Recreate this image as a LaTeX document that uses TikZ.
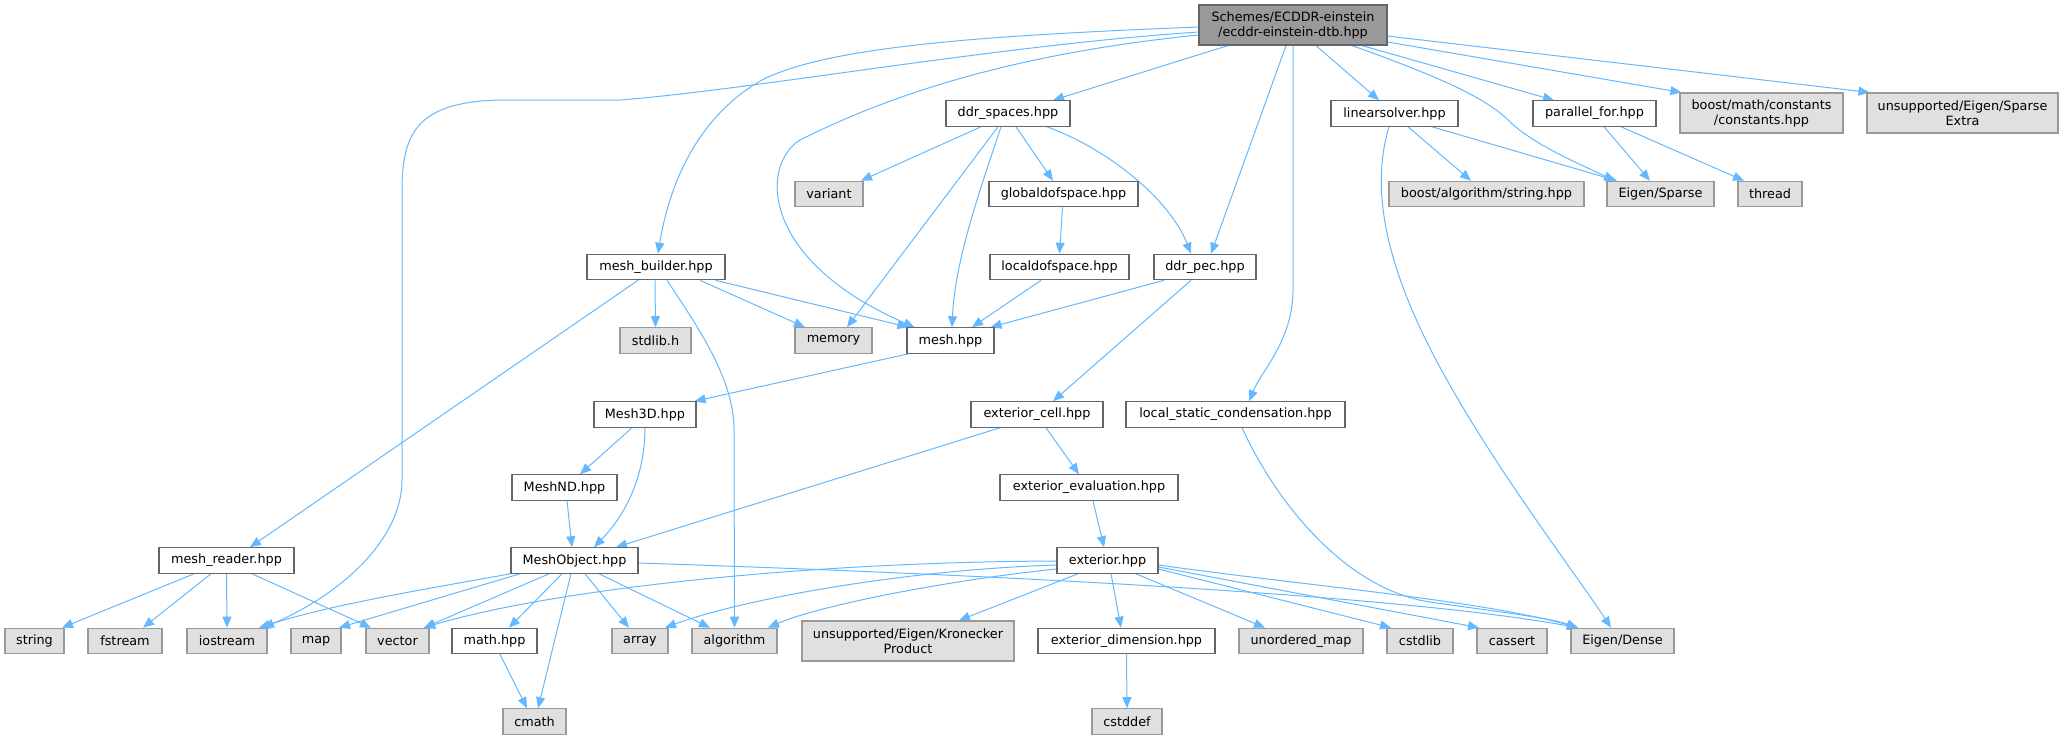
\documentclass[tikz,border=0pt]{standalone}
\usepackage{fontspec}
\setmainfont{DejaVu Sans}
\usetikzlibrary{arrows.meta,backgrounds}
\definecolor{cdark}{HTML}{666666}
\definecolor{cmid}{HTML}{999999}
\definecolor{clight}{HTML}{E0E0E0}
\definecolor{edgec}{HTML}{63B8FF}
\tikzset{
  base/.style={rectangle, inner sep=0pt, minimum height=25.5pt, font=\fontsize{12.8}{15}\selectfont, line width=1.1pt, align=center, text=black},
  intn/.style={base, draw=cdark, fill=white},
  extn/.style={base, draw=cmid, fill=clight},
  rootn/.style={base, draw=cdark, fill=cmid},
  e/.style={draw=edgec, line width=1pt, -{Triangle[length=11pt,width=9pt]}},
}
\begin{document}
\begin{tikzpicture}[x=1pt,y=-1pt]
\useasboundingbox (0,0) rectangle (2063,740);
% row 0
\node[rootn, minimum width=188pt, minimum height=40pt] (t) at (1293,25) {Schemes/ECDDR-einstein\\/ecddr-einstein-dtb.hpp};
% row 1
\node[intn, minimum width=124pt] (ds) at (1008,113.5) {ddr\_spaces.hpp};
\node[intn, minimum width=127pt] (ls) at (1394.5,113.5) {linearsolver.hpp};
\node[intn, minimum width=123pt] (pf) at (1594.5,113.5) {parallel\_for.hpp};
\node[extn, minimum width=163pt, minimum height=40pt] (bm) at (1761.5,113) {boost/math/constants\\/constants.hpp};
\node[extn, minimum width=191pt, minimum height=40pt] (se) at (1962.5,113) {unsupported/Eigen/Sparse\\Extra};
% row 2
\node[extn, minimum width=68pt] (var) at (829,194) {variant};
\node[intn, minimum width=149pt] (gd) at (1063.5,194) {globaldofspace.hpp};
\node[extn, minimum width=195pt] (ba) at (1486.5,194) {boost/algorithm/string.hpp};
\node[extn, minimum width=107pt] (es) at (1660.5,194) {Eigen/Sparse};
\node[extn, minimum width=64pt] (th) at (1770,194) {thread};
% row 3
\node[intn, minimum width=138pt] (mb) at (656,267) {mesh\_builder.hpp};
\node[intn, minimum width=139pt] (ld) at (1059.5,267) {localdofspace.hpp};
\node[intn, minimum width=102pt] (dp) at (1205,267) {ddr\_pec.hpp};
% row 4
\node[extn, minimum width=71pt] (sl) at (655.5,340.5) {stdlib.h};
\node[extn, minimum width=77pt] (mem) at (833.5,340.5) {memory};
\node[intn, minimum width=87pt] (mesh) at (950.5,340.5) {mesh.hpp};
% row 5
\node[intn, minimum width=102pt] (m3) at (645,414.5) {Mesh3D.hpp};
\node[intn, minimum width=132pt] (ec) at (1037,414.5) {exterior\_cell.hpp};
\node[intn, minimum width=219pt] (lsc) at (1235.5,414.5) {local\_static\_condensation.hpp};
% row 6
\node[intn, minimum width=105pt] (mnd) at (564.5,487.5) {MeshND.hpp};
\node[intn, minimum width=178pt] (ee) at (1089,487.5) {exterior\_evaluation.hpp};
% row 7
\node[intn, minimum width=135pt] (mr) at (226.5,560.5) {mesh\_reader.hpp};
\node[intn, minimum width=127pt] (mo) at (574.5,560.5) {MeshObject.hpp};
\node[intn, minimum width=101pt] (ex) at (1107.5,560.5) {exterior.hpp};
% row 8
\node[extn, minimum width=59pt] (str) at (34.5,641) {string};
\node[extn, minimum width=74pt] (fs) at (125,641) {fstream};
\node[extn, minimum width=80pt] (ios) at (227,641) {iostream};
\node[extn, minimum width=50pt] (map) at (316,641) {map};
\node[extn, minimum width=63pt] (vec) at (397.5,641) {vector};
\node[intn, minimum width=85pt] (math) at (494.5,641) {math.hpp};
\node[extn, minimum width=56pt] (arr) at (640,641) {array};
\node[extn, minimum width=85pt] (alg) at (734.5,641) {algorithm};
\node[extn, minimum width=212pt, minimum height=40pt] (kr) at (908,641) {unsupported/Eigen/Kronecker\\Product};
\node[intn, minimum width=177pt] (xd) at (1126.5,641) {exterior\_dimension.hpp};
\node[extn, minimum width=124pt] (um) at (1301,641) {unordered\_map};
\node[extn, minimum width=66pt] (csl) at (1420,641) {cstdlib};
\node[extn, minimum width=70pt] (cas) at (1512,641) {cassert};
\node[extn, minimum width=103pt] (ed) at (1622.5,641) {Eigen/Dense};
% row 9
\node[extn, minimum width=63pt] (cm) at (534.5,721.5) {cmath};
\node[extn, minimum width=70pt] (cd) at (1127,721.5) {cstddef};

\begin{scope}[on background layer]
% from root
\draw[e] ([yshift=-2pt]t.west) .. controls (1000,35) and (830,45) .. (762,80) .. controls (700,115) and (670,180) .. ([xshift=2pt]mb.north);
\draw[e] ([yshift=-7pt]t.west) .. controls (1000,45) and (750,90) .. (620,100) -- (500,100) .. controls (420,102) and (402,130) .. (402,190) -- (402,480) .. controls (402,540) and (340,595) .. ([xshift=36pt]ios.north);
\draw[e] ([yshift=-10pt]t.west) .. controls (1000,55) and (880,100) .. (800,140) .. controls (760,165) and (760,260) .. ([xshift=-36pt]mesh.north);
\draw[e] ([xshift=-65pt]t.south) -- ([xshift=45pt]ds.north);
\draw[e] ([xshift=-7pt]t.south) -- ([xshift=6pt]dp.north);
\draw[e] (t.south) -- (1293,290) .. controls (1293,340) and (1262,370) .. ([xshift=13.5pt]lsc.north);
\draw[e] ([xshift=23pt]t.south) -- ([xshift=-15.5pt]ls.north);
\draw[e] ([xshift=59pt]t.south) .. controls (1420,70) and (1485,95) .. (1510,122) .. controls (1535,145) and (1575,162) .. ([xshift=-45.5pt]es.north);
\draw[e] ([xshift=69pt]t.south) -- ([xshift=-40.5pt]pf.north);
\draw[e] ([yshift=-17pt]t.east) -- ([xshift=2pt]bm.north west);
\draw[e] ([yshift=-11pt]t.east) -- ([xshift=3pt]se.north west);
% ddr_spaces
\draw[e] ([xshift=-27pt]ds.south) -- ([xshift=32pt]var.north);
\draw[e] ([xshift=-10pt]ds.south) -- ([xshift=13.5pt]mem.north);
\draw[e] ([xshift=-7pt]ds.south) .. controls (980,190) and (955,260) .. ([xshift=1.5pt]mesh.north);
\draw[e] ([xshift=8pt]ds.south) -- ([xshift=-10.5pt]gd.north);
\draw[e] ([xshift=39pt]ds.south) .. controls (1110,150) and (1170,200) .. ([xshift=-14pt]dp.north);
\draw[e] ([xshift=-1pt]gd.south) -- (ld.north);
\draw[e] ([xshift=-18.5pt]ld.south) -- ([xshift=21.5pt]mesh.north);
\draw[e] ([xshift=-41pt]dp.south) -- ([xshift=-4pt]mesh.north east);
\draw[e] ([xshift=-14pt]dp.south) -- ([xshift=16pt]ec.north);
% mesh_builder
\draw[e] ([xshift=-1pt]mb.south) -- (sl.north);
\draw[e] ([xshift=-18pt]mb.south) -- ([xshift=23.5pt]mr.north);
\draw[e] ([xshift=11pt]mb.south) .. controls (700,330) and (734,380) .. (734,430) -- (alg.north);
\draw[e] ([xshift=44pt]mb.south) -- ([xshift=-28.5pt]mem.north);
\draw[e] ([xshift=-10pt]mb.south east) -- ([xshift=2pt]mesh.north west);
% mesh chain
\draw[e] ([xshift=2pt]mesh.south west) -- ([xshift=-2pt]m3.north east);
\draw[e] ([xshift=-13pt]m3.south) -- ([xshift=15.5pt]mnd.north);
\draw[e] (m3.south) .. controls (645,470) and (630,510) .. ([xshift=19.5pt]mo.north);
\draw[e] ([xshift=2.5pt]mnd.south) -- ([xshift=-2.5pt]mo.north);
\draw[e] ([xshift=-37pt]ec.south) -- ([xshift=41.5pt]mo.north);
\draw[e] ([xshift=9pt]ec.south) -- ([xshift=-10pt]ee.north);
\draw[e] ([xshift=4pt]ee.south) -- ([xshift=-3.5pt]ex.north);
% to Eigen/Dense etc
\draw[e] ([xshift=6.5pt]lsc.south) .. controls (1280,510) and (1350,590) .. (1430,602) .. controls (1500,612) and (1550,618) .. ([xshift=-44.5pt]ed.north);
\draw[e] ([xshift=-5.5pt]ls.south) .. controls (1370,190) and (1385,270) .. (1447,380) .. controls (1500,475) and (1580,580) .. ([xshift=-11.5pt]ed.north);
\draw[e] ([xshift=13.5pt]ls.south) -- ([xshift=-15.5pt]ba.north);
\draw[e] ([xshift=37.5pt]ls.south) -- ([xshift=-43.5pt]es.north);
\draw[e] ([xshift=9.5pt]pf.south) -- ([xshift=-10.5pt]es.north);
\draw[e] ([xshift=26.5pt]pf.south) -- ([xshift=-26pt]th.north);
% MeshObject
\draw[e] (mo.south west) .. controls (420,590) and (330,605) .. ([xshift=32pt]ios.north);
\draw[e] ([xshift=-54.5pt]mo.south) -- ([xshift=23pt]map.north);
\draw[e] ([xshift=-25.5pt]mo.south) -- ([xshift=26.5pt]vec.north);
\draw[e] ([xshift=-12.5pt]mo.south) -- ([xshift=14.5pt]math.north);
\draw[e] ([xshift=-3.5pt]mo.south) -- ([xshift=3.5pt]cm.north);
\draw[e] ([xshift=10.5pt]mo.south) -- ([xshift=-11pt]arr.north);
\draw[e] ([xshift=24.5pt]mo.south) -- ([xshift=-24.5pt]alg.north);
\draw[e] ([yshift=-2.5pt]mo.east) .. controls (1000,575) and (1400,595) .. ([xshift=-44.5pt]ed.north);
% exterior
\draw[e] ([yshift=-0.5pt]ex.west) .. controls (800,562) and (550,590) .. ([xshift=26.5pt]vec.north);
\draw[e] ([yshift=-4.5pt]ex.west) .. controls (900,570) and (740,600) .. ([xshift=25pt]arr.north);
\draw[e] ([yshift=-8.5pt]ex.west) .. controls (950,580) and (820,605) .. ([xshift=33.5pt]alg.north);
\draw[e] ([xshift=-29.5pt]ex.south) -- ([xshift=51pt]kr.north);
\draw[e] ([xshift=3.5pt]ex.south) -- ([xshift=-5.5pt]xd.north);
\draw[e] ([xshift=28.5pt]ex.south) -- ([xshift=-36pt]um.north);
\draw[e] ([yshift=-8.5pt]ex.east) -- ([xshift=-29pt]csl.north);
\draw[e] ([yshift=-6.5pt]ex.east) -- ([xshift=-33pt]cas.north);
\draw[e] ([yshift=-4.5pt]ex.east) .. controls (1300,585) and (1480,600) .. ([xshift=-44.5pt]ed.north);
% mesh_reader
\draw[e] ([xshift=-32.5pt]mr.south) -- ([xshift=27.5pt]str.north);
\draw[e] ([xshift=-15.5pt]mr.south) -- ([xshift=18pt]fs.north);
\draw[e] (mr.south) -- (ios.north);
\draw[e] ([xshift=25.5pt]mr.south) -- ([xshift=-26.5pt]vec.north);
\draw[e] ([xshift=5.5pt]math.south) -- ([xshift=-7.5pt]cm.north);
\draw[e] (xd.south) -- (cd.north);
\end{scope}
\end{tikzpicture}
\end{document}
